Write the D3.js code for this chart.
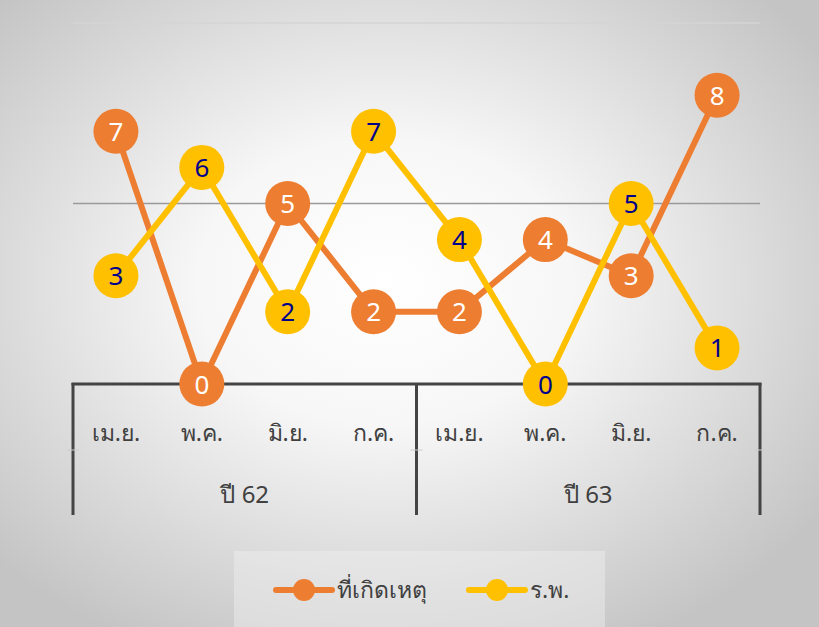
<!DOCTYPE html>
<html><head><meta charset="utf-8">
<script src="https://cdn.jsdelivr.net/npm/d3@7"></script>
<style>body{margin:0;overflow:hidden}svg{display:block}</style>
</head><body>
<script>
const months = ["เม.ย.","พ.ค.","มิ.ย.","ก.ค.","เม.ย.","พ.ค.","มิ.ย.","ก.ค."];
const years = ["ปี 62","ปี 63"];
const siteValues = [7,0,5,2,2,4,3,8];      // ที่เกิดเหตุ
const hospValues = [3,6,2,7,4,0,5,1];      // ร.พ.
const seriesNames = ["ที่เกิดเหตุ","ร.พ."];
const yTicks = [5,10];

const W=819,H=627;
const font = "'Noto Sans', 'Tahoma', 'Leelawadee UI', sans-serif";
const svg = d3.select("body").append("svg").attr("width",W).attr("height",H);
const defs = svg.append("defs");
const rg = defs.append("radialGradient").attr("id","bg").attr("cx","47%").attr("cy","45%").attr("r","65%");
rg.append("stop").attr("offset","0%").attr("stop-color","#ffffff");
rg.append("stop").attr("offset","35%").attr("stop-color","#f7f7f7");
rg.append("stop").attr("offset","100%").attr("stop-color","#c4c4c4");
svg.append("rect").attr("width",W).attr("height",H).attr("fill","url(#bg)");

const x = d3.scaleBand().domain(d3.range(8)).range([73,760]);
const y = d3.scaleLinear().domain([0,10]).range([384,23]);
const cx = i => x(i)+x.bandwidth()/2;

// gridlines
svg.selectAll(".grid").data(yTicks).join("line")
  .attr("x1",73).attr("x2",760).attr("y1",d=>y(d)).attr("y2",d=>y(d))
  .attr("stroke",d=>d===5?"#9a9a9a":"#d4d4d4").attr("stroke-width",1.5);

// category axis
const axisColor="#444";
svg.append("line").attr("x1",71.5).attr("x2",761.5).attr("y1",384).attr("y2",384)
  .attr("stroke",axisColor).attr("stroke-width",3);
[73,416.5,760].forEach(v=>{
  svg.append("line").attr("x1",v).attr("x2",v).attr("y1",383).attr("y2",515)
    .attr("stroke",axisColor).attr("stroke-width",3);
  svg.append("line").attr("x1",v-6).attr("x2",v+6).attr("y1",450).attr("y2",450)
    .attr("stroke","#ccc").attr("stroke-width",1);
});
svg.selectAll(".mlab").data(months).join("text")
  .attr("x",(d,i)=>cx(i)).attr("y",441).attr("text-anchor","middle")
  .attr("font-family",font).attr("font-size",23).attr("fill","#404040").text(d=>d);
svg.selectAll(".ylab").data(years).join("text")
  .attr("x",(d,i)=>(cx(i*4)+cx(i*4+3))/2).attr("y",503).attr("text-anchor","middle")
  .attr("font-family",font).attr("font-size",24).attr("fill","#404040").text(d=>d);

const line = d3.line().x((d,i)=>cx(i)).y(d=>y(d));
const series = [
  {name:seriesNames[0], vals:siteValues, color:"#ED7D31", label:"#ffffff"},
  {name:seriesNames[1], vals:hospValues, color:"#FFC000", label:"#00008B"}
];
const drawSeries = s=>{
  svg.append("path").datum(s.vals).attr("d",line).attr("fill","none")
    .attr("stroke",s.color).attr("stroke-width",6).attr("stroke-linejoin","round");
  const g = svg.append("g");
  g.selectAll("circle").data(s.vals).join("circle")
    .attr("cx",(d,i)=>cx(i)).attr("cy",d=>y(d)).attr("r",22.5).attr("fill",s.color);
  g.selectAll("text").data(s.vals).join("text")
    .attr("x",(d,i)=>cx(i)).attr("y",d=>y(d)+9.5).attr("text-anchor","middle")
    .attr("font-family",font).attr("font-size",26).attr("fill",s.label).text(d=>d);
};
drawSeries(series[0]);
drawSeries(series[1]);

// legend
svg.append("rect").attr("x",234).attr("y",551).attr("width",371).attr("height",80)
  .attr("fill","#f0f0f0").attr("opacity",0.45);
const legX=[276,469];
series.forEach((s,k)=>{
  const lx=legX[k], ly=590;
  svg.append("line").attr("x1",lx).attr("x2",lx+56).attr("y1",ly).attr("y2",ly)
    .attr("stroke",s.color).attr("stroke-width",6).attr("stroke-linecap","round");
  svg.append("circle").attr("cx",lx+28).attr("cy",ly).attr("r",11).attr("fill",s.color);
  svg.append("text").attr("x",lx+61).attr("y",ly+8).attr("font-family",font)
    .attr("font-size",23).attr("fill","#404040").text(s.name);
});
</script>
</body></html>
